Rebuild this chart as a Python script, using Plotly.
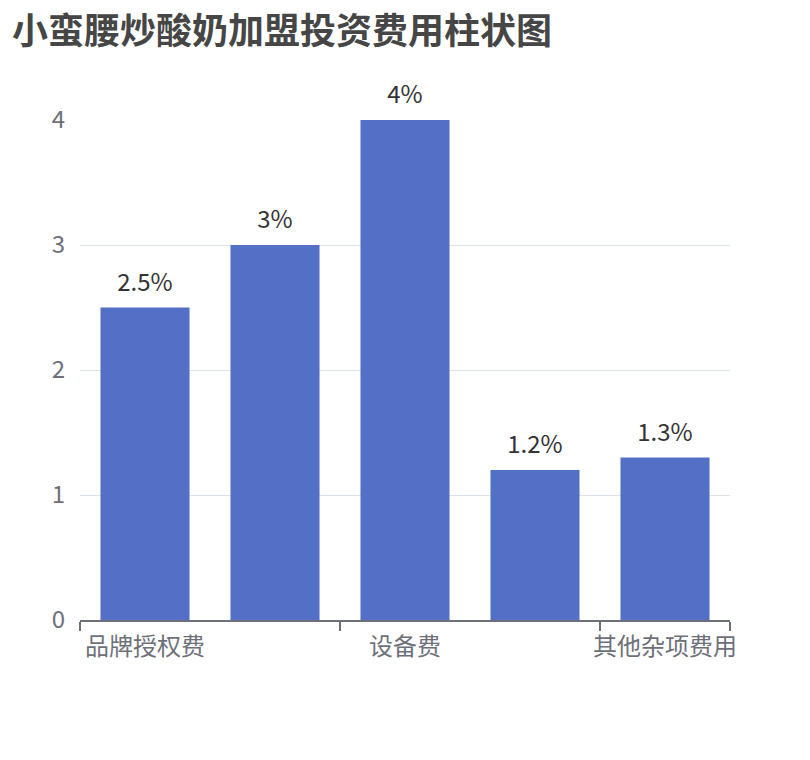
import plotly.graph_objects as go

categories = ["品牌授权费", "店面装修费", "设备费", "原料采购费", "其他杂项费用"]
values = [2.5, 3, 4, 1.2, 1.3]
value_labels = ["2.5%", "3%", "4%", "1.2%", "1.3%"]
shown_categories = categories[::2]
y_ticks = [0, 1, 2, 3, 4]

FONT = "Noto Sans CJK SC"

fig = go.Figure()
fig.add_trace(
    go.Bar(
        x=categories,
        y=values,
        marker=dict(color="#5470c6", line=dict(width=0)),
        hoverinfo="skip",
    )
)
fig.add_trace(
    go.Scatter(
        x=categories,
        y=values,
        mode="markers+text",
        text=value_labels,
        textposition="top center",
        textfont=dict(family=FONT, size=24, color="#333333"),
        marker=dict(size=16, opacity=0),
        cliponaxis=False,
        hoverinfo="skip",
    )
)

fig.update_layout(
    width=810,
    height=760,
    margin=dict(l=72, r=88, t=112, b=148),
    paper_bgcolor="white",
    plot_bgcolor="white",
    bargap=0.315,
    showlegend=False,
    font=dict(family=FONT),
    title=dict(
        text="<b>小蛮腰炒酸奶加盟投资费用柱状图</b>",
        x=0.005,
        xanchor="left",
        y=0.986,
        yanchor="top",
        font=dict(family=FONT, size=36, color="#464646"),
    ),
)

fig.update_xaxes(
    type="category",
    range=[-0.5, 4.5],
    tickvals=shown_categories,
    tickson="boundaries",
    tickangle=0,
    ticks="outside",
    ticklen=9,
    tickwidth=1.5,
    tickcolor="#6E7079",
    showline=True,
    linecolor="#6E7079",
    linewidth=1.5,
    showgrid=False,
    ticklabelstandoff=4,
    tickfont=dict(family=FONT, size=24, color="#6E7079"),
)

fig.update_yaxes(
    range=[0, 4],
    tickvals=y_ticks,
    showgrid=True,
    gridcolor="#DCE1EE",
    gridwidth=1.2,
    zeroline=False,
    showline=False,
    ticks="",
    ticklabelstandoff=14,
    tickfont=dict(family=FONT, size=24, color="#6E7079"),
)

fig.write_html("out.html")
